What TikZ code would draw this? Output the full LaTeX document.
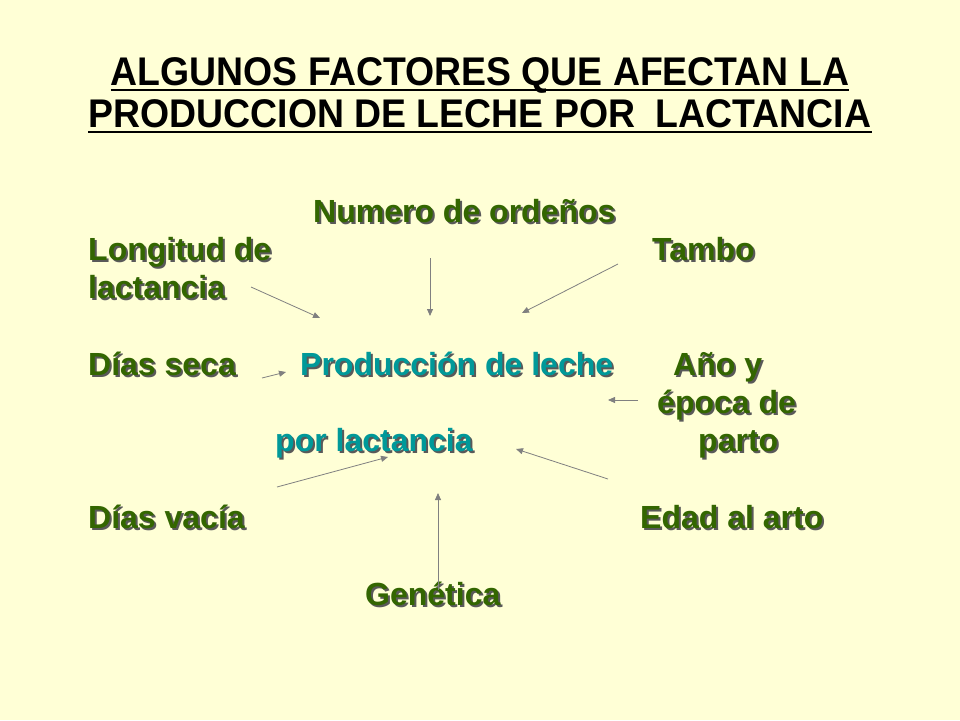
\documentclass[tikz,border=0pt]{standalone}
\usepackage{fontspec}
\setmainfont{Liberation Sans}
\usetikzlibrary{arrows.meta}

\definecolor{slidebg}{RGB}{255,255,214}
\definecolor{factorgreen}{RGB}{51,102,0}
\definecolor{centerteal}{RGB}{0,153,153}
\definecolor{ptrgray}{RGB}{128,128,128}

\begin{document}
\begin{tikzpicture}[x=1pt, y=-1pt]
  \newcommand\shadowdx{2pt}
  \newcommand\shadowdy{2pt}
  \newcommand\ulgap{5pt}
  \newcommand\shadowed[1]{\makebox[0pt][l]{\hspace{\shadowdx}\raisebox{-\shadowdy}{\textcolor{black!65}{#1}}}#1}

  \tikzset{titletext/.style={anchor=base, inner sep=0pt, xscale=0.935, font=\bfseries\fontsize{40}{44}\selectfont, text=black}}
  \tikzset{factor/.style={anchor=base west, inner sep=0pt, font=\bfseries\fontsize{32}{38}\selectfont, text=factorgreen}}
  \tikzset{centre/.style={factor, text=centerteal}}
  \tikzset{ptr/.style={-{Triangle[length=7pt, width=6pt]}, draw=ptrgray, line width=0.8pt}}

  \useasboundingbox (0,0) rectangle (960,720);
  \fill[slidebg] (0,0) rectangle (960,720);

  % title
  \node[titletext] (title1) at (480,85) {ALGUNOS FACTORES QUE AFECTAN LA};
  \node[titletext] (title2) at (480,127) {PRODUCCION DE LECHE POR\ \ LACTANCIA};
  \foreach \t in {title1, title2}{
    \draw[line width=2.5pt] ([yshift=-\ulgap]\t.base west) -- ([yshift=-\ulgap]\t.base east);
  }

  % factors
  \foreach \name/\px/\py/\txt in {num/313/222/Numero de ordeños, lon/88/260/Longitud de, tam/652/260/Tambo, lac/88/298/lactancia, dse/88/375/Días seca, ano/673/375/Año y, epo/657/413/época de, par/698/451/parto, dva/88/528/Días vacía, eda/640/528/Edad al arto, gen/365/605/Genética}{
    \node[factor] (\name) at (\px, \py) {\shadowed{\txt}};
  }

  % centre
  \foreach \name/\px/\py/\txt in {prod/300/375/Producción de leche, por/275/451/por lactancia}{
    \node[centre] (\name) at (\px, \py) {\shadowed{\txt}};
  }

  % arrows into the centre
  \foreach \src/\sx/\sy/\ex/\ey in {lac/251/287/320/318, num/430/258/430/316, tam/618/264/522/313, dse/262/378/286/372, epo/638/400/608/400, dva/277/487/388/457, eda/608/479/516/449, gen/438/590/438/493}{
    \coordinate (\src-a) at (\sx, \sy);
    \coordinate (\src-b) at (\ex, \ey);
    \draw[ptr] (\src-a) -- (\src-b);
  }
\end{tikzpicture}
\end{document}
